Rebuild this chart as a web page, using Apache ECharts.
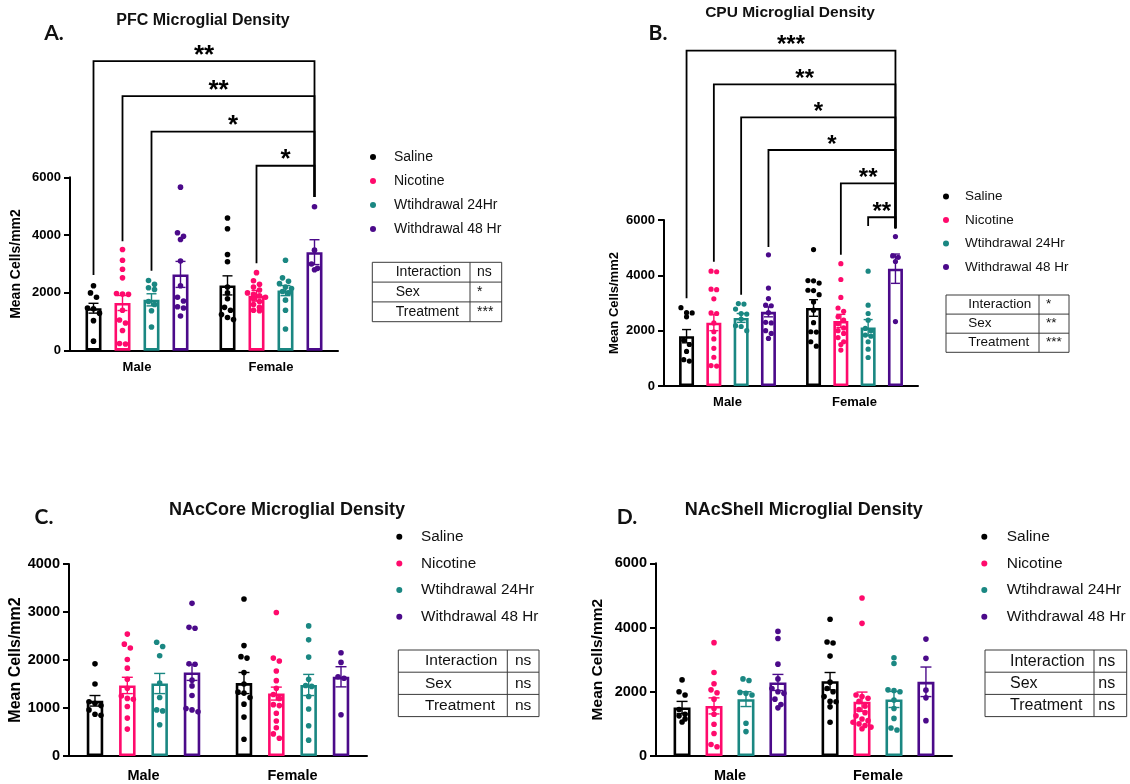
<!DOCTYPE html>
<html>
<head>
<meta charset="utf-8">
<script src="https://cdn.jsdelivr.net/npm/echarts@6/dist/echarts.min.js"></script>
<style>
  html, body { margin: 0; padding: 0; background: #ffffff; }
  #chart { width: 1130px; height: 784px; }
</style>
</head>
<body>
<div id="chart"></div>
<script>
// ---------- shared labels ----------
const sexes = ['Male', 'Female'];
const treatments = ['Saline', 'Nicotine', 'Wtihdrawal 24Hr', 'Withdrawal 48 Hr'];
const treatmentColors = ['#000000', '#ff0a6c', '#1a8782', '#4b0a8a'];
const effectRows = ['Interaction', 'Sex', 'Treatment'];
const yAxisTitle = 'Mean Cells/mm2';

// ---------- A. PFC ----------
const pfcTitle = 'PFC Microglial Density';
const pfcYTicks = [0, 2000, 4000, 6000];
// [treatment][sex] : mean and SEM
const pfcMean = [[1470, 2260], [1650, 1900], [1760, 2080], [2640, 3410]];
const pfcSem = [[170, 330], [260, 185], [210, 175], [450, 430]];
// [treatment][sex] : individual animals
const pfcDots = [
  [[2250, 2000, 1850, 1480, 1450, 1300, 1040, 330],
   [4590, 4220, 3330, 3080, 2200, 2000, 1800, 1500, 1400, 1250, 1150, 1080]],
  [[3500, 3130, 2820, 2520, 1980, 1960, 1950, 1400, 1060, 960, 700, 250, 230],
   [2700, 2420, 2300, 2200, 2100, 2000, 1950, 1900, 1850, 1800, 1700, 1600, 1500, 1400, 1380]],
  [[2430, 2300, 2180, 2120, 1700, 1600, 1380, 820],
   [3130, 2520, 2400, 2320, 2200, 2150, 2050, 2000, 1750, 1400, 750]],
  [[5660, 4080, 3960, 3850, 3100, 2250, 1850, 1720, 1520, 1480, 1200],
   [4980, 3480, 3000, 2850, 2800]]
];
const pfcEffects = ['ns', '*', '***'];
// significance brackets: [sex, treatment] pairs, bracket height, leg ends, label
const pfcSigFrom = [[0, 0], [0, 1], [0, 2], [1, 1]];
const pfcSigTo = [[1, 3], [1, 3], [1, 3], [1, 3]];
const pfcSigTop = [10020, 8810, 7580, 6400];
const pfcSigLeftEnd = [2620, 3790, 2770, 3030];
const pfcSigRightEnd = [5320, 5320, 5320, 5320];
const pfcSigLabel = ['**', '**', '*', '*'];

// ---------- B. CPU ----------
const cpuTitle = 'CPU Microglial Density';
const cpuYTicks = [0, 2000, 4000, 6000];
const cpuMean = [[1800, 2820], [2290, 2350], [2460, 2110], [2680, 4240]];
const cpuSem = [[240, 300], [290, 240], [160, 290], [180, 530]];
const cpuDots = [
  [[2830, 2650, 2640, 2500, 1650, 1500, 1250, 950, 900],
   [4930, 3810, 3800, 3720, 3460, 3450, 3300, 3040, 2740, 2290, 1960, 1950, 1600, 1440]],
  [[4150, 4130, 3500, 3480, 3150, 2640, 2620, 2280, 1960, 1700, 1360, 1040, 740, 720],
   [4420, 3850, 3200, 2820, 2700, 2500, 2380, 2250, 2100, 2000, 1900, 1750, 1600, 1500, 1300]],
  [[2980, 2960, 2780, 2620, 2600, 2420, 2180, 2150, 2000],
   [4150, 2920, 2620, 2380, 2080, 2000, 1840, 1800, 1600, 1330, 1030]],
  [[4740, 3540, 3160, 2920, 2900, 2650, 2300, 2280, 2000, 1900, 1720],
   [5400, 4700, 4650, 4500, 2330]]
];
const cpuEffects = ['*', '**', '***'];
const cpuSigFrom = [[0, 0], [0, 1], [0, 2], [0, 3], [1, 1], [1, 2]];
const cpuSigTo = [[1, 3], [1, 3], [1, 3], [1, 3], [1, 3], [1, 3]];
const cpuSigTop = [12120, 10900, 9710, 8530, 7325, 6100];
const cpuSigLeftEnd = [3170, 4490, 3300, 5020, 4740, 5780];
const cpuSigRightEnd = [5700, 5700, 5700, 5700, 5700, 5700];
const cpuSigLabel = ['***', '**', '*', '*', '**', '**'];

// ---------- C. NAcCore ----------
const coreTitle = 'NAcCore Microglial Density';
const coreYTicks = [0, 1000, 2000, 3000, 4000];
const coreMean = [[1150, 1520], [1470, 1300], [1510, 1480], [1740, 1650]];
const coreSem = [[110, 220], [170, 135], [210, 220], [165, 210]];
const coreDots = [
  [[1920, 1500, 1130, 1100, 1050, 960, 870, 850],
   [3270, 2300, 2070, 2040, 1740, 1500, 1330, 1310, 1220, 1080, 810, 350]],
  [[2540, 2330, 2250, 2010, 1830, 1600, 1410, 1250, 1200, 1180, 1030, 790, 560],
   [2990, 2040, 1980, 1770, 1570, 1410, 1280, 1200, 1070, 1050, 890, 730, 590, 460, 370]],
  [[2370, 2280, 2090, 1520, 1220, 960, 940, 650],
   [2710, 2420, 2060, 1600, 1470, 1450, 1240, 980, 630, 330]],
  [[3180, 2680, 2660, 1920, 1910, 1580, 1460, 1260, 990, 960, 920],
   [2150, 1950, 1650, 1620, 860]]
];
const coreEffects = ['ns', 'ns', 'ns'];

// ---------- D. NAcShell ----------
const shellTitle = 'NAcShell Microglial Density';
const shellYTicks = [0, 2000, 4000, 6000];
const shellMean = [[1510, 2330], [1560, 1690], [1770, 1760], [2290, 2310]];
const shellSem = [[190, 270], [250, 300], [230, 250], [250, 460]];
const shellDots = [
  [[2370, 2000, 1900, 1450, 1300, 1250, 1150, 1060],
   [4260, 3550, 3520, 3110, 2300, 2100, 2000, 1850, 1700, 1690, 1530, 1050]],
  [[3530, 2600, 2250, 2060, 1970, 1770, 1480, 1300, 990, 700, 360, 290],
   [4920, 4130, 1900, 1850, 1800, 1700, 1550, 1450, 1350, 1250, 1150, 1100, 1050, 1000, 950, 900, 850]],
  [[2400, 2350, 1980, 1950, 1900, 1020, 760],
   [3060, 2880, 2060, 2040, 2000, 1740, 1480, 1170, 870, 810]],
  [[3880, 3660, 2860, 2400, 2100, 2000, 1950, 1770, 1600, 1500],
   [3640, 3040, 2050, 1810, 1100]]
];
const shellEffects = ['ns', 'ns', 'ns'];

// ---------- panel layout ----------
const FONT = "'Liberation Sans', Arial, Helvetica, sans-serif";
const LETTER_FONT = "Lato, 'Liberation Sans', Arial, sans-serif";

const panels = [
  {
    letter: 'A.', title: pfcTitle, ticks: pfcYTicks, mean: pfcMean, sem: pfcSem, dots: pfcDots, effects: pfcEffects,
    sig: { from: pfcSigFrom, to: pfcSigTo, top: pfcSigTop, left: pfcSigLeftEnd, right: pfcSigRightEnd, label: pfcSigLabel },
    grid: { left: 70, top: 177.3, width: 268, height: 173.4 },
    barWidth: 16, barGap: 0.8125, dot: 6, cap: 5,
    tickFont: 13, xFont: 13, xMargin: 10, nameFont: 14, nameGap: 47,
    titlePos: [203, 21], titleFont: 16, letterPos: [54, 33], starFont: 26, starLift: 5.5,
    legend: { left: 370, top: 149, font: 14, lineHeight: 16, gap: 8, pad: 13 },
    table: { x: 372.3, y: 262.3, w1: 97.7, w2: 31.7, rowH: 19.8, padL: 23.4, padV: 7, font: 14 }
  },
  {
    letter: 'B.', title: cpuTitle, ticks: cpuYTicks, mean: cpuMean, sem: cpuSem, dots: cpuDots, effects: cpuEffects,
    sig: { from: cpuSigFrom, to: cpuSigTo, top: cpuSigTop, left: cpuSigLeftEnd, right: cpuSigRightEnd, label: cpuSigLabel },
    grid: { left: 664, top: 220, width: 254, height: 166 },
    barWidth: 15, barGap: 0.82, dot: 5.6, cap: 4.5,
    tickFont: 13, xFont: 13, xMargin: 10, nameFont: 13, nameGap: 43,
    titlePos: [790, 13], titleFont: 15.5, letterPos: [658, 33], starFont: 24, starLift: 5,
    legend: { left: 943, top: 188.7, font: 13.5, lineHeight: 15.5, gap: 8, pad: 11 },
    table: { x: 946, y: 295, w1: 93, w2: 30, rowH: 19.1, padL: 22.3, padV: 7, font: 13.5 }
  },
  {
    letter: 'C.', title: coreTitle, ticks: coreYTicks, mean: coreMean, sem: coreSem, dots: coreDots, effects: coreEffects,
    sig: null,
    grid: { left: 69, top: 564, width: 298, height: 192 },
    barWidth: 16.5, barGap: 0.96, dot: 6, cap: 5.5,
    tickFont: 14.5, xFont: 14.5, xMargin: 12, nameFont: 16, nameGap: 43,
    titlePos: [287, 510], titleFont: 18, letterPos: [44, 517],
    legend: { left: 396.3, top: 527.7, font: 15.3, lineHeight: 18, gap: 8.7, pad: 13.7 },
    table: { x: 398.3, y: 650, w1: 109, w2: 31.7, rowH: 22.2, padL: 26.7, padV: 7.7, font: 15.5 }
  },
  {
    letter: 'D.', title: shellTitle, ticks: shellYTicks, mean: shellMean, sem: shellSem, dots: shellDots, effects: shellEffects,
    sig: null,
    grid: { left: 656, top: 563.3, width: 296, height: 192.7 },
    barWidth: 17, barGap: 0.88, dot: 6, cap: 5.5,
    tickFont: 14.5, xFont: 14.5, xMargin: 12, nameFont: 15.5, nameGap: 50,
    titlePos: [803.7, 510], titleFont: 18, letterPos: [627, 517],
    legend: { left: 981.3, top: 527.7, font: 15.5, lineHeight: 18, gap: 8.7, pad: 14.4 },
    table: { x: 985, y: 650, w1: 109, w2: 32.7, rowH: 22.2, padL: 25, padV: 4.3, font: 16 }
  }
];

// horizontal shift of a treatment's bar from the category centre
function barOffset(p, t) {
  return (t - 1.5) * p.barWidth * (1 + p.barGap);
}

// scatter dots of one group: rows of near-equal values are spread sideways
function dotElements(vals, si, x, p, color, api) {
  const pts = vals.map(v => api.coord([si, v])[1]).sort((a, b) => a - b);
  const rows = [];
  let cur = null;
  pts.forEach(y => {
    if (cur && y - cur[0] < p.dot * 0.95) cur.push(y);
    else { cur = [y]; rows.push(cur); }
  });
  const out = [];
  rows.forEach(row => row.forEach((y, j) => {
    out.push({
      type: 'circle',
      shape: { cx: x + (j - (row.length - 1) / 2) * p.dot, cy: y, r: p.dot / 2 - 0.2 },
      style: { fill: color }
    });
  }));
  return out;
}

const option = {
  animation: false,
  backgroundColor: '#ffffff',
  grid: [], xAxis: [], yAxis: [], series: [], legend: [], graphic: []
};

panels.forEach((p, pi) => {
  option.grid.push(Object.assign({ containLabel: false }, p.grid));
  option.xAxis.push({
    type: 'category', gridIndex: pi, data: sexes,
    axisLine: { lineStyle: { color: '#000', width: 2 } },
    axisTick: { alignWithLabel: true, length: 6, lineStyle: { color: '#000', width: 2 } },
    axisLabel: { color: '#000', fontFamily: FONT, fontWeight: 'bold', fontSize: p.xFont, margin: p.xMargin },
    splitLine: { show: false }
  });
  const ticks = p.ticks;
  option.yAxis.push({
    type: 'value', gridIndex: pi,
    min: ticks[0], max: ticks[ticks.length - 1], interval: ticks[1] - ticks[0],
    name: yAxisTitle, nameLocation: 'middle', nameGap: p.nameGap,
    nameTextStyle: { color: '#000', fontFamily: FONT, fontWeight: 'bold', fontSize: p.nameFont },
    axisLine: { show: true, lineStyle: { color: '#000', width: 2 } },
    axisTick: { show: true, length: 6, lineStyle: { color: '#000', width: 2 } },
    axisLabel: { color: '#000', fontFamily: FONT, fontWeight: 'bold', fontSize: p.tickFont, margin: 9,
                 formatter: v => String(v) },
    splitLine: { show: false }
  });

  // open bars (group means)
  treatments.forEach((name, t) => {
    option.series.push({
      type: 'bar', name, xAxisIndex: pi, yAxisIndex: pi, silent: true, z: 2,
      data: p.mean[t],
      barWidth: p.barWidth, barGap: (p.barGap * 100) + '%',
      itemStyle: { color: '#ffffff', borderColor: treatmentColors[t], borderWidth: 2.6 }
    });
  });

  // SEM error bars and individual points
  treatments.forEach((name, t) => {
    const color = treatmentColors[t];
    option.series.push({
      type: 'custom', name, xAxisIndex: pi, yAxisIndex: pi, silent: true, z: 4,
      data: sexes.map((s, si) => [si, p.mean[t][si], p.sem[t][si]]),
      renderItem: (params, api) => {
        const si = params.dataIndex;
        const m = api.value(1), e = api.value(2);
        const x = api.coord([si, m])[0] + barOffset(p, t);
        const yHi = api.coord([si, m + e])[1];
        const yLo = api.coord([si, m - e])[1];
        const st = { stroke: color, lineWidth: 1.4 };
        const children = [
          { type: 'line', shape: { x1: x, y1: yHi, x2: x, y2: yLo }, style: st },
          { type: 'line', shape: { x1: x - p.cap, y1: yHi, x2: x + p.cap, y2: yHi }, style: st },
          { type: 'line', shape: { x1: x - p.cap, y1: yLo, x2: x + p.cap, y2: yLo }, style: st }
        ].concat(dotElements(p.dots[t][si], si, x, p, color, api));
        return { type: 'group', children };
      }
    });
  });

  // significance brackets
  if (p.sig) {
    const s = p.sig;
    option.series.push({
      type: 'custom', name: 'significance', xAxisIndex: pi, yAxisIndex: pi, silent: true, z: 5, clip: false,
      data: s.top.map((top, k) => [s.from[k][0], top]),
      renderItem: (params, api) => {
        const k = params.dataIndex;
        const [fs, ft] = s.from[k];
        const [ts, tt] = s.to[k];
        const xL = api.coord([fs, 0])[0] + barOffset(p, ft);
        const xR = api.coord([ts, 0])[0] + barOffset(p, tt);
        const yT = api.coord([fs, s.top[k]])[1];
        const yL = api.coord([fs, s.left[k]])[1];
        const yR = api.coord([ts, s.right[k]])[1];
        return {
          type: 'group',
          children: [
            { type: 'polyline', shape: { points: [[xL, yL], [xL, yT], [xR, yT], [xR, yR]] },
              style: { stroke: '#000', lineWidth: 1.8, fill: null } },
            { type: 'text', x: (xL + xR) / 2, y: yT - p.starLift,
              style: { text: s.label[k], fill: '#000', font: 'bold ' + p.starFont + 'px ' + FONT,
                       align: 'center', verticalAlign: 'middle' } }
          ]
        };
      }
    });
  }

  // legend
  const L = p.legend;
  option.legend.push({
    orient: 'vertical', left: L.left, top: L.top, padding: 0,
    itemWidth: 6, itemHeight: 6, itemGap: L.gap, icon: 'circle',
    selectedMode: false,
    textStyle: { color: '#111', fontFamily: FONT, fontSize: L.font, lineHeight: L.lineHeight,
                 padding: [0, 0, 0, L.pad] },
    data: treatments.map((n, t) => ({ name: n, itemStyle: { color: treatmentColors[t], borderWidth: 0 } }))
  });

  // title and panel letter
  option.graphic.push({
    type: 'text', x: p.titlePos[0], y: p.titlePos[1],
    style: { text: p.title, fill: '#111', font: 'bold ' + p.titleFont + 'px ' + FONT, align: 'center', verticalAlign: 'middle' }
  });
  option.graphic.push({
    type: 'text', x: p.letterPos[0], y: p.letterPos[1],
    style: { text: p.letter, fill: '#111', font: 'bold 21px ' + LETTER_FONT, align: 'center', verticalAlign: 'middle' }
  });

  // two-way ANOVA summary table
  const T = p.table;
  const w = T.w1 + T.w2, h = T.rowH * effectRows.length;
  const line = { stroke: '#3a3a3a', lineWidth: 1 };
  option.graphic.push({ type: 'rect', shape: { x: T.x, y: T.y, width: w, height: h }, style: Object.assign({ fill: 'none' }, line) });
  option.graphic.push({ type: 'line', shape: { x1: T.x + T.w1, y1: T.y, x2: T.x + T.w1, y2: T.y + h }, style: line });
  effectRows.forEach((r, ri) => {
    if (ri > 0) {
      option.graphic.push({ type: 'line', shape: { x1: T.x, y1: T.y + ri * T.rowH, x2: T.x + w, y2: T.y + ri * T.rowH }, style: line });
    }
    const cy = T.y + (ri + 0.5) * T.rowH;
    option.graphic.push({ type: 'text', x: T.x + T.padL, y: cy,
      style: { text: r, fill: '#111', font: T.font + 'px ' + FONT, align: 'left', verticalAlign: 'middle' } });
    option.graphic.push({ type: 'text', x: T.x + T.w1 + T.padV, y: cy,
      style: { text: p.effects[ri], fill: '#111', font: T.font + 'px ' + FONT, align: 'left', verticalAlign: 'middle' } });
  });
});

const chart = echarts.init(document.getElementById('chart'), null, { renderer: 'canvas' });
chart.setOption(option);
</script>
</body>
</html>
